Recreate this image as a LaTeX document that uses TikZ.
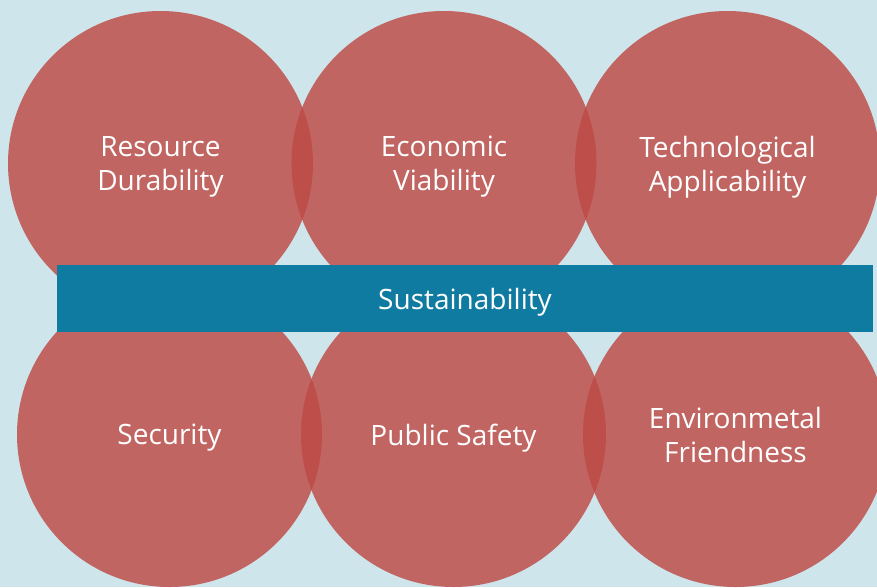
\documentclass[tikz,border=0pt]{standalone}
\usepackage{fontspec}
\setmainfont{Open Sans}
\definecolor{bgblue}{HTML}{CFE5EC}
\definecolor{disc}{HTML}{BD4A44}
\definecolor{barblue}{HTML}{107BA0}
\begin{document}
\begin{tikzpicture}[x=1pt,y=-1pt,
  pillar/.style={circle,fill=disc,fill opacity=0.82,text opacity=1,text=white,minimum size=305pt,inner sep=0pt,align=center,text depth=0pt,font=\fontsize{28}{34}\selectfont},
  band/.style={fill=barblue,text=white,minimum width=816pt,minimum height=67pt,inner sep=0pt,text depth=0pt,font=\fontsize{28}{34}\selectfont}]
\clip (0,0) rectangle (877,587);
\fill[bgblue] (0,0) rectangle (877,587);
% upper row
\node[pillar](rd) at (160.5,163.5){Resource\\Durability};
\node[pillar](ev) at (444,163.5){Economic\\Viability};
\node[pillar](ta) at (727.5,163.5){Technological\\Applicability};
% lower row
\node[pillar](se) at (169.5,434.5){Security};
\node[pillar](ps) at (453.5,434.5){Public Safety};
\node[pillar](ef) at (735.5,434.5){Environmetal\\Friendness};
% the bar across
\node[band](su) at (465,298.5){Sustainability};
\end{tikzpicture}
\end{document}
